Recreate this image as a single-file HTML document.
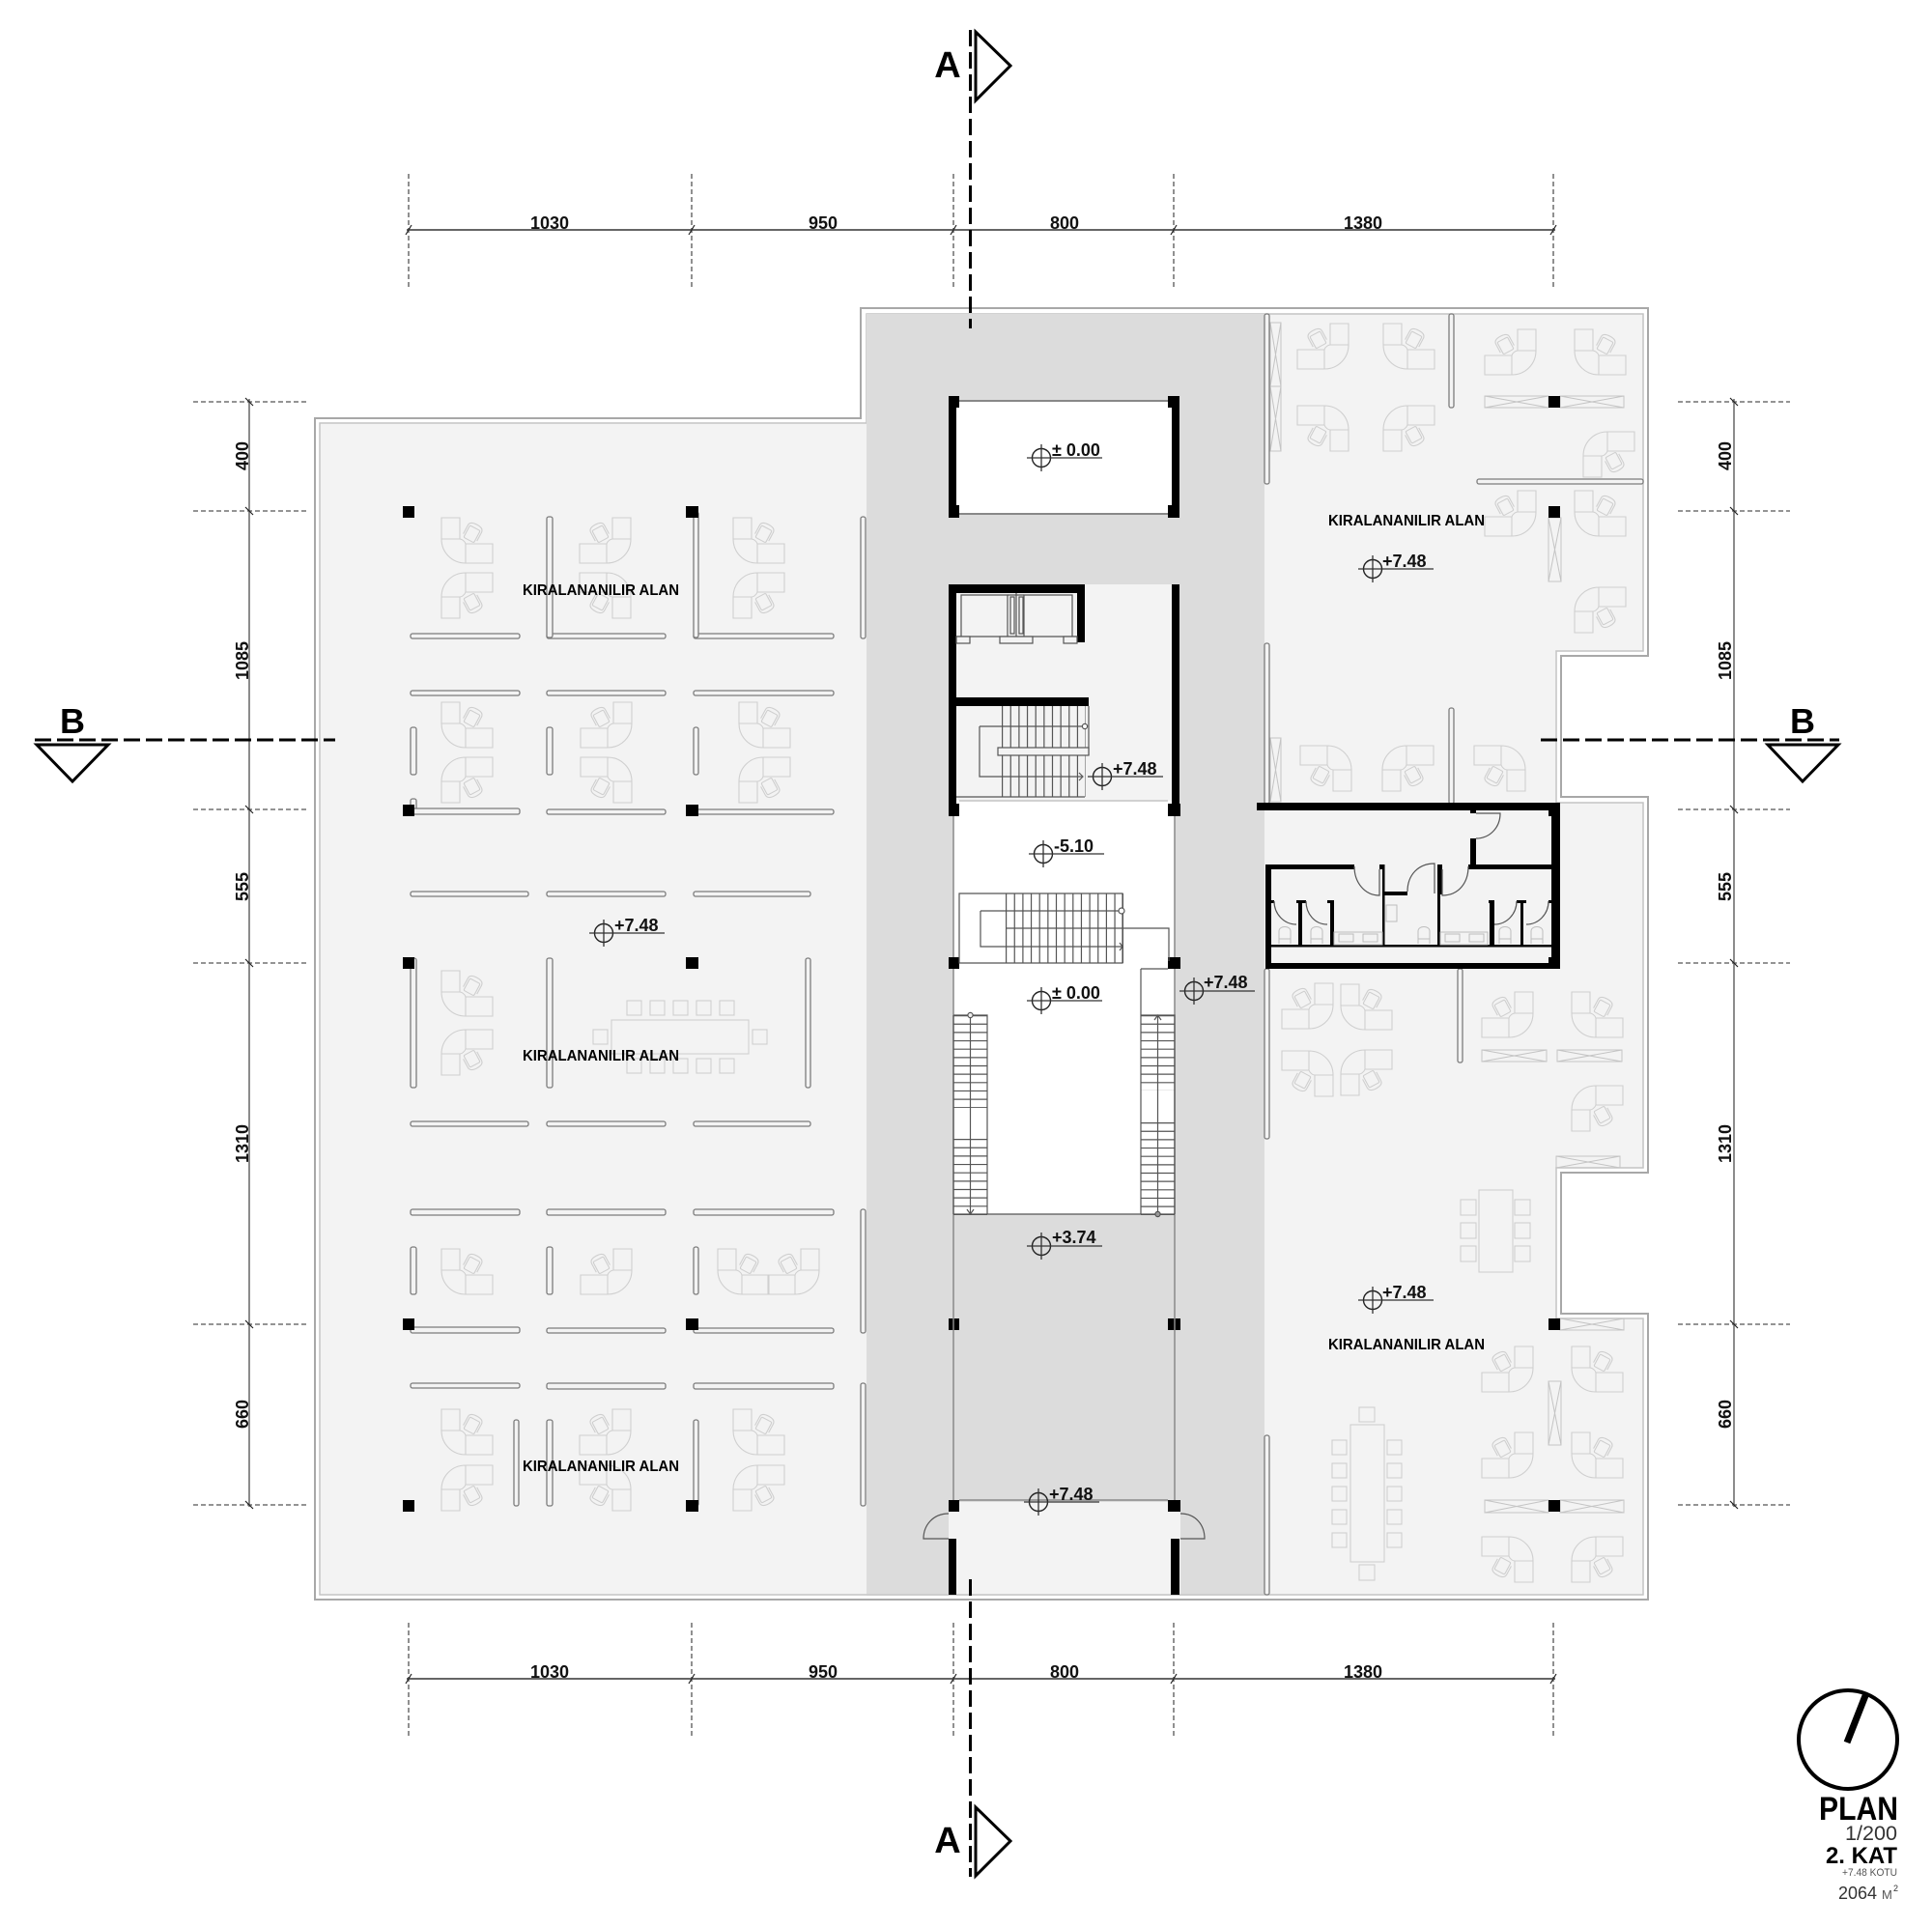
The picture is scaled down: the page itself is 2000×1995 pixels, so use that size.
<!DOCTYPE html>
<html><head><meta charset="utf-8"><title>Plan</title>
<style>
html,body{margin:0;padding:0;background:#fff}
svg{display:block;filter:blur(.35px)}
text{font-family:"Liberation Sans",sans-serif;fill:#000}
.lv{font-size:18px;font-weight:700;fill:#111}
.dm{font-size:18px;font-weight:700;text-anchor:middle;fill:#111}
.ka{font-size:16px;font-weight:700}
.p{fill:#f3f3f3;stroke:#7c7c7c;stroke-width:1.3}
.x{fill:none;stroke:#c4c4c4;stroke-width:1}
.c{fill:none;stroke:#cfcfcf;stroke-width:1.1}
.k{fill:#000}
.e{stroke:#555;stroke-width:1.3;stroke-dasharray:5 3;fill:none}
.d{stroke:#666;stroke-width:2;fill:none}
.t{stroke:#222;stroke-width:1.2;fill:none}
.s{stroke:#000;stroke-width:3;stroke-dasharray:17 6;fill:none}
.l{stroke:#555;stroke-width:1.2;fill:none}
.st{stroke:#555;stroke-dasharray:1.2 7.45;fill:none}
.ln{stroke:#666;stroke-width:1.5;fill:none}
</style></head>
<body>
<svg xmlns="http://www.w3.org/2000/svg" width="2000" height="1995" viewBox="0 0 2000 1995">
<defs>
<g id="a" class="c">
<path d="M0,0H19V22H0ZM0,22C0,36 11,47 25,47H53V27H25C24,24 21,22 19,22M25,27V47"/>
<g transform="translate(32,16) rotate(28)"><rect x="-6" y="-6" width="12" height="14" rx="1.5"/><path d="M-8,5V-5C-8,-9 -4,-10 0,-10C4,-10 8,-9 8,-5V5"/></g>
</g>
<use id="b" href="#a" transform="translate(53,0) scale(-1,1)"/>
<use id="cc" href="#a" transform="translate(0,47) scale(1,-1)"/>
<use id="dd" href="#a" transform="translate(53,47) scale(-1,-1)"/>
<g id="lv"><circle cx="0" cy="0" r="9.5" fill="none" stroke="#222" stroke-width="1.4"/><path d="M-15,0H63M0,-14V14" stroke="#333" stroke-width="1.3" fill="none"/></g>
</defs>

<!-- floors -->
<path d="M331,438H897V325H1701V674H1611V831H1701V1209H1611V1365H1701V1651H331Z" fill="#f3f3f3" stroke="#c4c4c4" stroke-width="1.5"/>
<path d="M326,433H891V319H1706V679H1616V825H1706V1214H1616V1360H1706V1656H326Z" fill="none" stroke="#a8a8a8" stroke-width="2"/>
<rect x="897" y="325" width="412" height="1326" fill="#dcdcdc"/>
<rect x="990" y="415" width="223" height="117" fill="#fff"/>
<rect x="987" y="829" width="229" height="428" fill="#fff"/>
<rect x="990" y="605" width="223" height="224" fill="#f3f3f3"/>
<rect x="982" y="1555" width="240" height="96" fill="#f3f3f3"/>
<path d="M897,1651H1309" stroke="#c8c8c8" stroke-width="1.5"/>

<!-- left desks -->
<use href="#a" x="457" y="536"/><use href="#cc" x="457" y="593"/>
<use href="#b" x="600" y="536"/><use href="#dd" x="600" y="593"/>
<use href="#a" x="759" y="536"/><use href="#cc" x="759" y="593"/>
<use href="#a" x="457" y="727"/><use href="#cc" x="457" y="784"/>
<use href="#b" x="601" y="727"/><use href="#dd" x="601" y="784"/>
<use href="#a" x="765" y="727"/><use href="#cc" x="765" y="784"/>
<use href="#a" x="457" y="1005"/><use href="#cc" x="457" y="1066"/>
<use href="#a" x="457" y="1293"/><use href="#b" x="601" y="1293"/>
<use href="#a" x="743" y="1293"/><use href="#b" x="795" y="1293"/>
<use href="#a" x="457" y="1459"/><use href="#cc" x="457" y="1517"/>
<use href="#b" x="600" y="1459"/><use href="#dd" x="600" y="1517"/>
<use href="#a" x="759" y="1459"/><use href="#cc" x="759" y="1517"/>

<!-- left conference -->
<g class="c">
<rect x="633" y="1056" width="142" height="35"/>
<rect x="649" y="1036" width="15" height="15"/><rect x="673" y="1036" width="15" height="15"/><rect x="697" y="1036" width="15" height="15"/><rect x="721" y="1036" width="15" height="15"/><rect x="745" y="1036" width="15" height="15"/>
<rect x="649" y="1096" width="15" height="15"/><rect x="673" y="1096" width="15" height="15"/><rect x="697" y="1096" width="15" height="15"/><rect x="721" y="1096" width="15" height="15"/><rect x="745" y="1096" width="15" height="15"/>
<rect x="614" y="1066" width="15" height="15"/><rect x="779" y="1066" width="15" height="15"/>
</g>

<!-- left partitions -->
<g class="p">
<rect x="425" y="656" width="113" height="5" rx="2"/><rect x="566" y="656" width="123" height="5" rx="2"/><rect x="718" y="656" width="145" height="5" rx="2"/>
<rect x="566" y="535" width="6" height="125" rx="2"/><rect x="718" y="530" width="5" height="130" rx="2"/><rect x="891" y="535" width="5" height="126" rx="2"/>
<rect x="425" y="715" width="113" height="5" rx="2"/><rect x="566" y="715" width="123" height="5" rx="2"/><rect x="718" y="715" width="145" height="5" rx="2"/>
<rect x="425" y="753" width="6" height="49" rx="2"/><rect x="566" y="753" width="6" height="49" rx="2"/><rect x="718" y="753" width="5" height="49" rx="2"/>
<rect x="425" y="827" width="6" height="12" rx="2"/>
<rect x="425" y="837" width="113" height="6" rx="2"/><rect x="566" y="838" width="123" height="5" rx="2"/><rect x="718" y="838" width="145" height="5" rx="2"/>
<rect x="425" y="923" width="122" height="5" rx="2"/><rect x="566" y="923" width="123" height="5" rx="2"/><rect x="718" y="923" width="121" height="5" rx="2"/>
<rect x="425" y="992" width="6" height="134" rx="2"/><rect x="566" y="992" width="6" height="134" rx="2"/><rect x="834" y="992" width="5" height="134" rx="2"/>
<rect x="425" y="1161" width="122" height="5" rx="2"/><rect x="566" y="1161" width="123" height="5" rx="2"/><rect x="718" y="1161" width="121" height="5" rx="2"/>
<rect x="425" y="1252" width="113" height="6" rx="2"/><rect x="566" y="1252" width="123" height="6" rx="2"/><rect x="718" y="1252" width="145" height="6" rx="2"/>
<rect x="425" y="1291" width="6" height="49" rx="2"/><rect x="566" y="1291" width="6" height="49" rx="2"/><rect x="718" y="1291" width="5" height="49" rx="2"/>
<rect x="425" y="1374" width="113" height="6" rx="2"/><rect x="566" y="1375" width="123" height="5" rx="2"/><rect x="718" y="1375" width="145" height="5" rx="2"/>
<rect x="425" y="1432" width="113" height="5" rx="2"/><rect x="566" y="1432" width="123" height="6" rx="2"/><rect x="718" y="1432" width="145" height="6" rx="2"/>
<rect x="532" y="1470" width="5" height="89" rx="2"/><rect x="566" y="1470" width="6" height="89" rx="2"/><rect x="718" y="1470" width="5" height="89" rx="2"/>
<rect x="891" y="1252" width="5" height="128" rx="2"/><rect x="891" y="1432" width="5" height="127" rx="2"/>
</g>

<!-- right desks -->
<use href="#b" x="1343" y="335"/><use href="#a" x="1432" y="335"/><use href="#dd" x="1343" y="420"/><use href="#cc" x="1432" y="420"/>
<use href="#b" x="1537" y="341"/><use href="#a" x="1630" y="341"/><use href="#cc" x="1639" y="447"/>
<use href="#b" x="1537" y="508"/><use href="#a" x="1630" y="508"/><use href="#cc" x="1630" y="608"/>
<use href="#dd" x="1346" y="772"/><use href="#cc" x="1431" y="772"/><use href="#dd" x="1526" y="772"/>
<use href="#b" x="1327" y="1018"/><use href="#a" x="1388" y="1019"/><use href="#dd" x="1327" y="1088"/><use href="#cc" x="1388" y="1087"/>
<use href="#b" x="1534" y="1027"/><use href="#a" x="1627" y="1027"/><use href="#cc" x="1627" y="1124"/>
<use href="#b" x="1534" y="1394"/><use href="#a" x="1627" y="1394"/><use href="#b" x="1534" y="1483"/><use href="#a" x="1627" y="1483"/>
<use href="#dd" x="1534" y="1591"/><use href="#cc" x="1627" y="1591"/>

<!-- planters -->
<g class="x">
<path d="M1315,334H1326V400H1315ZM1315,334L1326,400M1326,334L1315,400"/>
<path d="M1315,400H1326V467H1315ZM1315,400L1326,467M1326,400L1315,467"/>
<path d="M1537,410H1603V422H1537ZM1537,410L1603,422M1537,422L1603,410"/>
<path d="M1615,410H1681V422H1615ZM1615,410L1681,422M1615,422L1681,410"/>
<path d="M1603,536H1616V602H1603ZM1603,536L1616,602M1616,536L1603,602"/>
<path d="M1315,764H1326V830H1315ZM1315,764L1326,830M1326,764L1315,830"/>
<path d="M1534,1087H1601V1099H1534ZM1534,1087L1601,1099M1534,1099L1601,1087"/>
<path d="M1612,1087H1679V1099H1612ZM1612,1087L1679,1099M1612,1099L1679,1087"/>
<path d="M1611,1197H1677V1209H1611ZM1611,1197L1677,1209M1611,1209L1677,1197"/>
<path d="M1615,1365H1681V1377H1615ZM1615,1365L1681,1377M1615,1377L1681,1365"/>
<path d="M1603,1430H1616V1496H1603ZM1603,1430L1616,1496M1616,1430L1603,1496"/>
<path d="M1537,1553H1603V1566H1537ZM1537,1553L1603,1566M1537,1566L1603,1553"/>
<path d="M1615,1553H1681V1566H1615ZM1615,1553L1681,1566M1615,1566L1681,1553"/>
</g>

<!-- right tables -->
<g class="c">
<rect x="1531" y="1232" width="35" height="85"/>
<rect x="1512" y="1242" width="16" height="16"/><rect x="1512" y="1266" width="16" height="16"/><rect x="1512" y="1290" width="16" height="16"/>
<rect x="1568" y="1242" width="16" height="16"/><rect x="1568" y="1266" width="16" height="16"/><rect x="1568" y="1290" width="16" height="16"/>
<rect x="1398" y="1475" width="35" height="142"/>
<rect x="1379" y="1491" width="15" height="15"/><rect x="1379" y="1515" width="15" height="15"/><rect x="1379" y="1539" width="15" height="15"/><rect x="1379" y="1563" width="15" height="15"/><rect x="1379" y="1587" width="15" height="15"/>
<rect x="1436" y="1491" width="15" height="15"/><rect x="1436" y="1515" width="15" height="15"/><rect x="1436" y="1539" width="15" height="15"/><rect x="1436" y="1563" width="15" height="15"/><rect x="1436" y="1587" width="15" height="15"/>
<rect x="1407" y="1457" width="16" height="15"/><rect x="1407" y="1620" width="16" height="16"/>
</g>

<!-- right partitions -->
<g class="p">
<rect x="1309" y="325" width="5" height="176" rx="2"/>
<rect x="1500" y="325" width="5" height="97" rx="2"/>
<rect x="1529" y="496" width="172" height="5" rx="2"/>
<rect x="1309" y="666" width="5" height="166" rx="2"/>
<rect x="1500" y="733" width="5" height="99" rx="2"/>
<rect x="1309" y="1003" width="5" height="176" rx="2"/>
<rect x="1509" y="1003" width="5" height="97" rx="2"/>
<rect x="1309" y="1486" width="5" height="165" rx="2"/>
</g>

<!-- columns -->
<g class="k">
<rect x="417" y="524" width="12" height="12"/><rect x="710" y="524" width="13" height="12"/>
<rect x="417" y="833" width="12" height="12"/><rect x="710" y="833" width="13" height="12"/>
<rect x="417" y="991" width="12" height="12"/><rect x="710" y="991" width="13" height="12"/>
<rect x="417" y="1365" width="12" height="12"/><rect x="710" y="1365" width="13" height="12"/>
<rect x="417" y="1553" width="12" height="12"/><rect x="710" y="1553" width="13" height="12"/>
<rect x="1603" y="410" width="12" height="12"/><rect x="1603" y="524" width="12" height="12"/>
<rect x="1603" y="1365" width="12" height="12"/><rect x="1603" y="1553" width="12" height="12"/>
<!-- top box -->
<rect x="982" y="410" width="11" height="12"/><rect x="1209" y="410" width="12" height="12"/>
<rect x="982" y="523" width="11" height="13"/><rect x="1209" y="523" width="12" height="13"/>
<rect x="982" y="422" width="8" height="101"/><rect x="1213" y="422" width="8" height="101"/>
<!-- core -->
<rect x="982" y="605" width="141" height="9"/><rect x="982" y="605" width="8" height="240"/>
<rect x="1115" y="605" width="8" height="60"/><rect x="1213" y="605" width="8" height="240"/>
<rect x="990" y="722" width="137" height="9"/>
<rect x="982" y="832" width="11" height="13"/><rect x="1209" y="832" width="13" height="13"/>
<rect x="982" y="991" width="11" height="12"/><rect x="1209" y="991" width="13" height="12"/>
<rect x="982" y="1365" width="11" height="12"/><rect x="1209" y="1365" width="13" height="12"/>
<rect x="982" y="1553" width="11" height="12"/><rect x="1209" y="1553" width="13" height="12"/>
<rect x="982" y="1593" width="8" height="58"/><rect x="1212" y="1593" width="9" height="58"/>
</g>
<path d="M993,415H1209M993,532H1209" stroke="#888" stroke-width="2" fill="none"/>

<!-- thin lines core -->
<path d="M987,845V991M1216,845V991M987,1003V1553M1216,1003V1553M993,1553H1209" stroke="#8a8a8a" stroke-width="1.5" fill="none"/>
<path d="M993,829H1209" stroke="#c4c4c4" stroke-width="1.5"/>

<!-- elevators -->
<g class="l">
<path d="M995,659V616H1043V659M1060,659V616H1110V659M990,659H1115"/>
<rect x="1046" y="618" width="4" height="38" fill="#f3f3f3"/><rect x="1055" y="618" width="4" height="38" fill="#f3f3f3"/>
<path d="M1043,616H1060M1052,614V660"/>
<rect x="990" y="659" width="14" height="7" fill="#f3f3f3"/><rect x="1035" y="659" width="34" height="7" fill="#f3f3f3"/><rect x="1101" y="659" width="14" height="7" fill="#f3f3f3"/>
</g>

<!-- upper stair -->
<path class="st" d="M1037,778H1124" stroke-width="94"/>
<g class="l">
<path d="M1014,752H1123M1014,752V804H1120M1117,800L1121,804L1117,808M990,825H1123M1127,731V782"/>
<rect x="1033" y="774" width="94" height="8" fill="#f3f3f3"/>
<circle cx="1123" cy="752" r="2.6" fill="#fff"/>
</g>

<!-- middle stair -->
<path class="st" d="M1041,961H1163" stroke-width="72"/>
<g class="l">
<path d="M993,925H1162V997H993ZM1015,943H1162M1015,943V980H1162M1041,961H1210V995M1181,1003H1209M1181,1003V1257M987,1257H1216M1159,976L1162,980L1159,984"/>
<circle cx="1161" cy="943" r="3" fill="#fff"/>
</g>

<!-- side stairs -->
<path class="st" d="M1004.5,1051V1147" stroke-width="35"/>
<path class="st" d="M1004.5,1179V1258" stroke-width="35"/>
<path class="st" d="M1198.5,1051V1129" stroke-width="35"/>
<path class="st" d="M1198.5,1162V1258" stroke-width="35"/>
<g class="l">
<path d="M987,1051H1022V1257M987,1051V1257M1004.5,1051V1257M1001,1252L1004.5,1257L1008,1252"/>
<path d="M1181,1051H1216V1257M1198.5,1051V1257M1195,1056L1198.5,1051L1202,1056"/>
<circle cx="1004.5" cy="1051" r="2.6" fill="#eee"/><circle cx="1198.5" cy="1257" r="2.6" fill="#999"/>
</g>

<!-- entrance doors -->
<g class="l">
<path d="M982,1567C966,1567 956,1579 956,1593H982"/>
<path d="M1222,1567C1238,1567 1247,1579 1247,1593H1222"/>
</g>

<!-- WC block -->
<g class="k">
<rect x="1301" y="831" width="314" height="8"/>
<rect x="1606" y="833" width="9" height="170"/>
<rect x="1603" y="832" width="12" height="13"/><rect x="1603" y="991" width="12" height="12"/>
<rect x="1310" y="997" width="305" height="6"/>
<rect x="1310" y="895" width="6" height="108"/>
<rect x="1310" y="895" width="92" height="5"/>
<rect x="1428" y="895" width="5" height="5"/><rect x="1431" y="895" width="2.5" height="83"/>
<rect x="1488" y="895" width="5" height="31"/><rect x="1488" y="895" width="3" height="83"/>
<rect x="1433" y="923" width="24" height="4"/>
<rect x="1520" y="895" width="87" height="5"/>
<rect x="1522" y="868" width="6" height="29"/>
<rect x="1522" y="839" width="6" height="3"/>
<rect x="1316" y="978" width="291" height="2.5"/>
<rect x="1344" y="932" width="4" height="46"/><rect x="1342" y="932" width="10" height="3"/>
<rect x="1377" y="932" width="4" height="46"/><rect x="1374" y="932" width="7" height="3"/>
<rect x="1316" y="932" width="3" height="3"/>
<rect x="1542" y="932" width="5" height="46"/><rect x="1541" y="932" width="6" height="3"/>
<rect x="1574" y="932" width="3" height="46"/><rect x="1570" y="932" width="10" height="3"/>
<rect x="1603" y="932" width="4" height="3"/>
</g>
<g class="l" stroke-width="1">
<path d="M1402,897C1402,914 1413,927 1428,927V900"/>
<path d="M1457,923C1457,906 1468,894 1485,894V925"/>
<path d="M1520,897C1520,914 1510,927 1493,927V900"/>
<path d="M1528,842H1553C1553,857 1542,868 1528,868"/>
<path d="M1319,933C1319,946 1329,957 1342,957"/>
<path d="M1352,933C1352,946 1361,957 1374,957"/>
<path d="M1547,957C1560,957 1570,946 1570,933"/>
<path d="M1580,957C1593,957 1603,946 1603,933"/>
</g>
<g fill="none" stroke="#bdbdbd" stroke-width="1">
<path d="M1324,977V964C1324,958 1336,958 1336,964V977M1324,972H1336"/>
<path d="M1357,977V964C1357,958 1369,958 1369,964V977M1357,972H1369"/>
<path d="M1468,977V964C1468,958 1480,958 1480,964V977M1468,972H1480"/>
<path d="M1552,977V964C1552,958 1564,958 1564,964V977M1552,972H1564"/>
<path d="M1585,977V964C1585,958 1597,958 1597,964V977M1585,972H1597"/>
<rect x="1381" y="965" width="50" height="13"/><rect x="1386" y="967" width="15" height="8"/><rect x="1411" y="967" width="15" height="8"/>
<rect x="1491" y="965" width="49" height="13"/><rect x="1496" y="967" width="15" height="8"/><rect x="1521" y="967" width="15" height="8"/>
<rect x="1435" y="937" width="11" height="17"/>
</g>

<!-- levels -->
<use href="#lv" x="1078" y="474"/><text class="lv" x="1089" y="472">± 0.00</text>
<use href="#lv" x="1141" y="804"/><text class="lv" x="1152" y="802">+7.48</text>
<use href="#lv" x="1080" y="884"/><text class="lv" x="1091" y="882">-5.10</text>
<use href="#lv" x="1078" y="1036"/><text class="lv" x="1089" y="1034">± 0.00</text>
<use href="#lv" x="1236" y="1026"/><text class="lv" x="1246" y="1023">+7.48</text>
<use href="#lv" x="1078" y="1290"/><text class="lv" x="1089" y="1287">+3.74</text>
<use href="#lv" x="1075" y="1555"/><text class="lv" x="1086" y="1553">+7.48</text>
<use href="#lv" x="625" y="966"/><text class="lv" x="636" y="964">+7.48</text>
<use href="#lv" x="1421" y="589"/><text class="lv" x="1431" y="587">+7.48</text>
<use href="#lv" x="1421" y="1346"/><text class="lv" x="1431" y="1344">+7.48</text>

<!-- area labels -->
<text class="ka" x="541" y="616" textLength="162" lengthAdjust="spacingAndGlyphs">KIRALANANILIR ALAN</text>
<text class="ka" x="541" y="1098" textLength="162" lengthAdjust="spacingAndGlyphs">KIRALANANILIR ALAN</text>
<text class="ka" x="541" y="1523" textLength="162" lengthAdjust="spacingAndGlyphs">KIRALANANILIR ALAN</text>
<text class="ka" x="1375" y="544" textLength="162" lengthAdjust="spacingAndGlyphs">KIRALANANILIR ALAN</text>
<text class="ka" x="1375" y="1397" textLength="162" lengthAdjust="spacingAndGlyphs">KIRALANANILIR ALAN</text>

<!-- top dims -->
<path class="e" d="M423,180V297M716,180V297M987,180V297M1215,180V297M1608,180V297"/>
<path class="d" d="M421,238H1610"/>
<path class="t" d="M420,243L426,233M713,243L719,233M984,243L990,233M1212,243L1218,233M1605,243L1611,233"/>
<text class="dm" x="569" y="237">1030</text><text class="dm" x="852" y="237">950</text><text class="dm" x="1102" y="237">800</text><text class="dm" x="1411" y="237">1380</text>

<!-- bottom dims -->
<path class="e" d="M423,1680V1797M716,1680V1797M987,1680V1797M1215,1680V1797M1608,1680V1797"/>
<path class="d" d="M421,1738H1610"/>
<path class="t" d="M420,1743L426,1733M713,1743L719,1733M984,1743L990,1733M1212,1743L1218,1733M1605,1743L1611,1733"/>
<text class="dm" x="569" y="1737">1030</text><text class="dm" x="852" y="1737">950</text><text class="dm" x="1102" y="1737">800</text><text class="dm" x="1411" y="1737">1380</text>

<!-- left dims -->
<path class="e" d="M200,416H317M200,529H317M200,838H317M200,997H317M200,1371H317M200,1558H317"/>
<path class="ln" d="M258,413V1560"/>
<path class="t" d="M254,412L262,420M254,525L262,533M254,834L262,842M254,993L262,1001M254,1367L262,1375M254,1554L262,1562"/>
<text class="dm" transform="translate(257,472) rotate(-90)">400</text>
<text class="dm" transform="translate(257,684) rotate(-90)">1085</text>
<text class="dm" transform="translate(257,918) rotate(-90)">555</text>
<text class="dm" transform="translate(257,1184) rotate(-90)">1310</text>
<text class="dm" transform="translate(257,1464) rotate(-90)">660</text>

<!-- right dims -->
<path class="e" d="M1737,416H1853M1737,529H1853M1737,838H1853M1737,997H1853M1737,1371H1853M1737,1558H1853"/>
<path class="ln" d="M1795,413V1560"/>
<path class="t" d="M1791,412L1799,420M1791,525L1799,533M1791,834L1799,842M1791,993L1799,1001M1791,1367L1799,1375M1791,1554L1799,1562"/>
<text class="dm" transform="translate(1792,472) rotate(-90)">400</text>
<text class="dm" transform="translate(1792,684) rotate(-90)">1085</text>
<text class="dm" transform="translate(1792,918) rotate(-90)">555</text>
<text class="dm" transform="translate(1792,1184) rotate(-90)">1310</text>
<text class="dm" transform="translate(1792,1464) rotate(-90)">660</text>

<!-- section A -->
<path class="s" d="M1004.5,31V340"/>
<path class="s" d="M1004.5,1635V1943"/>
<path d="M1010,33V104L1046,68Z" fill="none" stroke="#000" stroke-width="3"/>
<path d="M1010,1871V1942L1046,1906Z" fill="none" stroke="#000" stroke-width="3"/>
<text x="981" y="80" font-size="38" font-weight="700" text-anchor="middle">A</text>
<text x="981" y="1918" font-size="38" font-weight="700" text-anchor="middle">A</text>

<!-- section B -->
<path class="s" d="M36,766H347"/>
<path class="s" d="M1595,766H1904"/>
<path d="M38,771H112L75,809Z" fill="none" stroke="#000" stroke-width="3"/>
<path d="M1830,771H1903L1866,809Z" fill="none" stroke="#000" stroke-width="3"/>
<text x="75" y="759" font-size="36" font-weight="700" text-anchor="middle">B</text>
<text x="1866" y="759" font-size="36" font-weight="700" text-anchor="middle">B</text>

<!-- title -->
<circle cx="1913" cy="1801" r="51" fill="none" stroke="#000" stroke-width="4"/>
<path d="M1932,1753L1912,1804" stroke="#000" stroke-width="7" fill="none"/>
<text x="1883" y="1884" font-size="34" font-weight="700" textLength="82" lengthAdjust="spacingAndGlyphs">PLAN</text>
<text x="1910" y="1905" font-size="21" style="fill:#333" textLength="54" lengthAdjust="spacingAndGlyphs">1/200</text>
<text x="1890" y="1929" font-size="24" font-weight="700" textLength="74" lengthAdjust="spacingAndGlyphs">2. KAT</text>
<text x="1907" y="1942" font-size="11" style="fill:#555" textLength="57" lengthAdjust="spacingAndGlyphs">+7.48 KOTU</text>
<text x="1903" y="1966" font-size="18" style="fill:#333" textLength="40" lengthAdjust="spacingAndGlyphs">2064</text>
<text x="1948" y="1966" font-size="13" style="fill:#555">M</text>
<text x="1960" y="1958" font-size="9" style="fill:#333">2</text>
</svg>
</body></html>
